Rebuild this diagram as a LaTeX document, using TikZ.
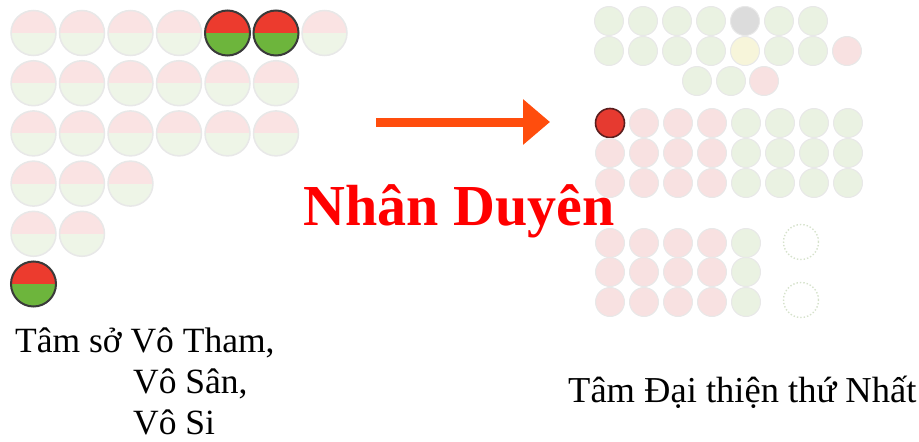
\documentclass[tikz,border=0pt]{standalone}
\usepackage{fontspec}
\setmainfont{Liberation Serif}
\usetikzlibrary{arrows.meta}

\definecolor{fadeRed}{HTML}{FAE3E3}
\definecolor{fadeGreen}{HTML}{EEF5E7}
\definecolor{fadeEdge}{HTML}{E8E8E8}
\definecolor{hotRed}{HTML}{EC3B2E}
\definecolor{hotGreen}{HTML}{6DB53C}
\definecolor{hotEdge}{HTML}{3A3A3A}
\definecolor{pinkDot}{HTML}{F8E1E1}
\definecolor{greenDot}{HTML}{EAF2E2}
\definecolor{grayDot}{HTML}{DCDCDC}
\definecolor{yellowDot}{HTML}{F7F5DA}
\definecolor{redDot}{HTML}{E63A30}
\definecolor{redEdge}{HTML}{5A1E1E}
\definecolor{ghostEdge}{HTML}{D6E2CC}
\definecolor{arrowOrange}{HTML}{FF4D0D}

\tikzset{
  halfdot/.style n args={3}{circle, inner sep=0pt, minimum size=45pt,
    draw=#3, line width=1.5pt,
    path picture={
      \fill[#1] (path picture bounding box.north west) rectangle (path picture bounding box.east);
      \fill[#2] (path picture bounding box.west) rectangle (path picture bounding box.south east);}},
  paledot/.style={halfdot={fadeRed}{fadeGreen}{fadeEdge}},
  litdot/.style={halfdot={hotRed}{hotGreen}{hotEdge}, line width=2pt},
  smalldot/.style={circle, inner sep=0pt, minimum size=29pt, fill=#1,
    draw=fadeEdge, line width=1pt},
  reddot/.style={circle, inner sep=0pt, minimum size=29pt, fill=redDot,
    draw=redEdge, line width=1.6pt},
  ghostdot/.style={circle, inner sep=0pt, minimum size=35pt, draw=ghostEdge,
    line width=1.4pt, dotted},
  flowarrow/.style={draw=arrowOrange, line width=9pt,
    -{Triangle[length=27pt, width=44pt, fill=arrowOrange]}},
  title/.style={text=red, inner sep=0pt, anchor=base,
    font=\fontsize{58}{62}\selectfont\bfseries},
  caption/.style={inner sep=0pt, anchor=base west,
    font=\fontsize{35.5}{40}\selectfont},
}

\begin{document}
\begin{tikzpicture}[x=1pt, y=-1pt]
\useasboundingbox (0,0) rectangle (919,442);

% left cluster: half red / half green dots
\foreach \c in {1,2,3,4,7}
  \node[paledot] (L-1-\c) at ({33.5+48.5*(\c-1)},33) {};
\foreach \c in {5,6}
  \node[litdot] (L-1-\c) at ({33.5+48.5*(\c-1)},33) {};
\foreach \r/\n in {2/6,3/6,4/3,5/2}
  \foreach \c in {1,...,\n}
    \node[paledot] (L-\r-\c) at ({33.5+48.5*(\c-1)},{33+50.2*(\r-1)}) {};
\node[litdot] (L-6-1) at (33.5,284) {};

% right cluster: upper rows
\foreach \c/\col in {1/greenDot,2/greenDot,3/greenDot,4/greenDot,5/grayDot,6/greenDot,7/greenDot}
  \node[smalldot=\col] (R1-\c) at ({609+34*(\c-1)},21) {};
\foreach \c/\col in {1/greenDot,2/greenDot,3/greenDot,4/greenDot,5/yellowDot,6/greenDot,7/greenDot,8/pinkDot}
  \node[smalldot=\col] (R2-\c) at ({609+34*(\c-1)},51) {};
\node[smalldot=greenDot] (R3-1) at (697,81) {};
\node[smalldot=greenDot] (R3-2) at (731,81) {};
\node[smalldot=pinkDot]  (R3-3) at (764,81) {};

% right cluster: middle block
\node[reddot] (R4-1) at (610,123) {};
\foreach \c in {2,3,4}
  \node[smalldot=pinkDot] (R4-\c) at ({610+34*(\c-1)},123) {};
\foreach \c in {5,...,8}
  \node[smalldot=greenDot] (R4-\c) at ({610+34*(\c-1)},123) {};
\foreach \r/\y in {5/153,6/183} {
  \foreach \c in {1,...,4}
    \node[smalldot=pinkDot] (R\r-\c) at ({610+34*(\c-1)},\y) {};
  \foreach \c in {5,...,8}
    \node[smalldot=greenDot] (R\r-\c) at ({610+34*(\c-1)},\y) {};
}

% right cluster: lower block
\foreach \r/\y in {7/243,8/272,9/302} {
  \foreach \c in {1,...,4}
    \node[smalldot=pinkDot] (R\r-\c) at ({610+34*(\c-1)},\y) {};
  \node[smalldot=greenDot] (R\r-5) at (746,\y) {};
}
\node[ghostdot] (G-1) at (801,242) {};
\node[ghostdot] (G-2) at (801,300) {};

% arrow and title
\coordinate (arrowTail) at (376,122);
\coordinate (arrowTip) at (550,122);
\draw[flowarrow] (arrowTail) -- (arrowTip);
\node[title] (nhanduyen) at (459,225) {Nhân Duyên};

% captions
\node[caption] (cap-l1) at (15,352) {Tâm sở Vô Tham,};
\node[caption] (cap-l2) at (133,393) {Vô Sân,};
\node[caption] (cap-l3) at (133,434) {Vô Si};
\node[caption, font=\fontsize{36.5}{40}\selectfont] (cap-r) at (568,402) {Tâm Đại thiện thứ Nhất};
\end{tikzpicture}
\end{document}
